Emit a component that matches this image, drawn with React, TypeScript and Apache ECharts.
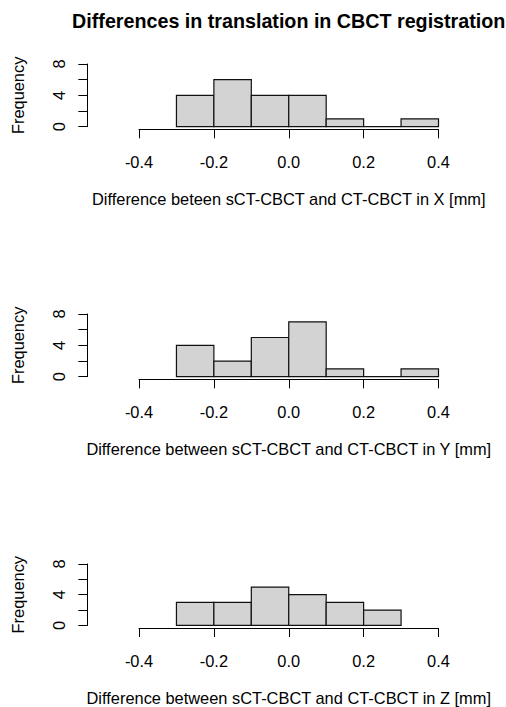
import React, { useEffect, useRef } from "react";
import * as echarts from "echarts";

const mainTitle = "Differences in translation in CBCT registration";
const binEdges = [-0.3, -0.2, -0.1, 0.0, 0.1, 0.2, 0.3, 0.4];
const countsX = [4, 6, 4, 4, 1, 0, 1];
const countsY = [4, 2, 5, 7, 1, 0, 1];
const countsZ = [3, 3, 5, 4, 3, 2];
const axisTitles = [
  "Difference beteen sCT-CBCT and CT-CBCT in X [mm]",
  "Difference between sCT-CBCT and CT-CBCT in Y [mm]",
  "Difference between sCT-CBCT and CT-CBCT in Z [mm]",
];
const yName = "Frequency";

const FONT = "Liberation Sans, Arial, sans-serif";

export default function App() {
  const ref = useRef<HTMLDivElement>(null);
  useEffect(() => {
    if (!ref.current) return;
    const chart = echarts.init(ref.current, null, { renderer: "svg" });
    const allCounts = [countsX, countsY, countsZ];
    const tops = [64, 314, 564];
    const grids = tops.map((t) => ({ left: 139, width: 299.5, top: t, height: 62.7 }));
    const xAxes = tops.map((_, i) => ({
      type: "value",
      gridIndex: i,
      min: -0.4,
      max: 0.4,
      interval: 0.2,
      offset: 2.6,
      name: axisTitles[i],
      nameLocation: "middle",
      nameGap: 62,
      nameTextStyle: { fontSize: 16.4, color: "#000", fontFamily: FONT },
      axisLine: { onZero: false, lineStyle: { color: "#000", width: 1 } },
      axisTick: { length: 9, lineStyle: { color: "#000" } },
      axisLabel: {
        fontSize: 16.4,
        color: "#000",
        fontFamily: FONT,
        margin: 25,
        formatter: (v: number) => v.toFixed(1),
      },
      splitLine: { show: false },
    }));
    const yAxes = tops.map((_, i) => ({
      type: "value",
      gridIndex: i,
      min: 0,
      max: 8,
      interval: 2,
      offset: 51.7,
      name: yName,
      nameLocation: "middle",
      nameRotate: 90,
      nameGap: 61,
      nameTextStyle: { fontSize: 16.4, color: "#000", fontFamily: FONT },
      axisLine: { show: true, onZero: false, lineStyle: { color: "#000", width: 1 } },
      axisTick: { show: true, length: 9, lineStyle: { color: "#000" } },
      axisLabel: {
        rotate: 90,
        fontSize: 16.4,
        color: "#000",
        fontFamily: FONT,
        margin: 20,
        formatter: (v: number) => (v % 4 === 0 ? String(v) : ""),
      },
      splitLine: { show: false },
    }));
    const series = allCounts.map((counts, i) => ({
      type: "custom",
      xAxisIndex: i,
      yAxisIndex: i,
      encode: { x: [0, 1], y: 2 },
      data: counts.map((c, k) => [binEdges[k], binEdges[k + 1], c]),
      renderItem: (params: any, api: any) => {
        const p0 = api.coord([api.value(0), api.value(2)]);
        const p1 = api.coord([api.value(1), 0]);
        return {
          type: "rect",
          shape: { x: p0[0], y: p0[1], width: p1[0] - p0[0], height: p1[1] - p0[1] },
          style: { fill: "#d3d3d3", stroke: "#111", lineWidth: 1.2 },
        };
      },
    }));
    chart.setOption({
      animation: false,
      backgroundColor: "#fff",
      grid: grids,
      xAxis: xAxes,
      yAxis: yAxes,
      series,
      graphic: [
        {
          type: "text",
          x: 288.7,
          y: 21,
          style: {
            text: mainTitle,
            fontSize: 19.7,
            fontWeight: "bold",
            fontFamily: FONT,
            fill: "#000",
            textAlign: "center",
            textVerticalAlign: "middle",
          },
        },
      ],
    });
    return () => chart.dispose();
  }, []);
  return (
    <div
      ref={ref}
      style={{ position: "fixed", left: 0, top: 0, width: 506, height: 707 }}
    />
  );
}
